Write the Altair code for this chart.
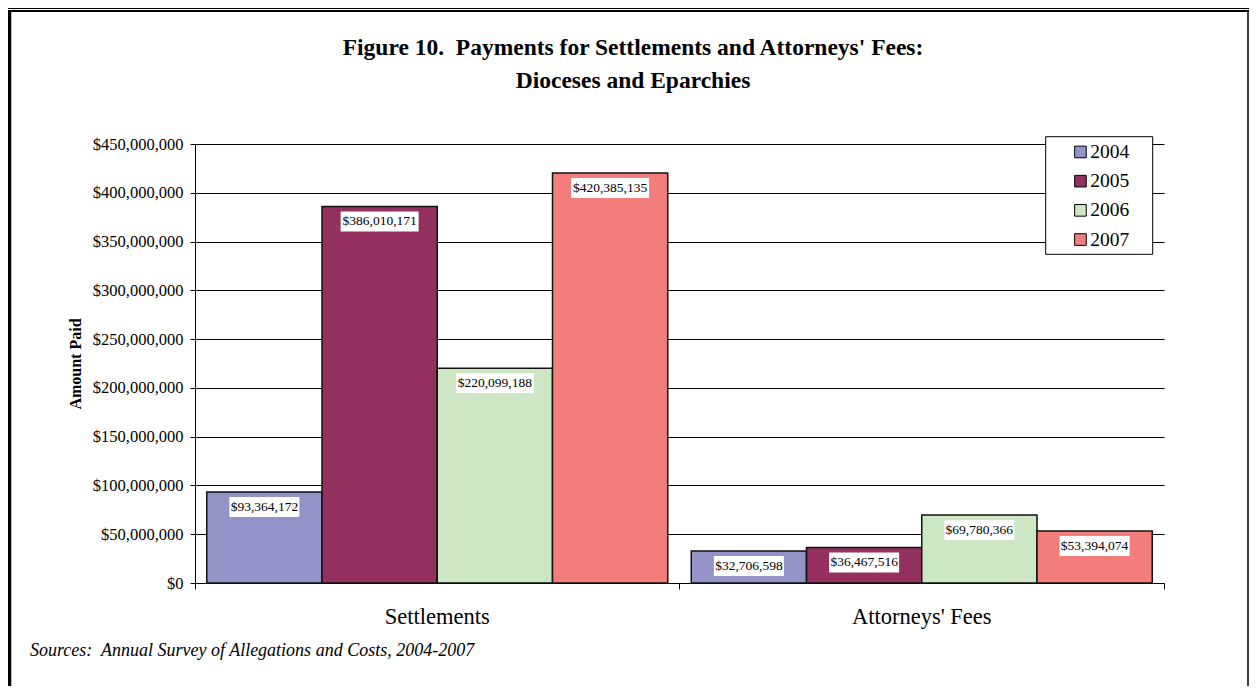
import altair as alt
import pandas as pd

# ---- data ----
categories = ["Settlements", "Attorneys' Fees"]
years = ["2004", "2005", "2006", "2007"]
settlements = [93364172, 386010171, 220099188, 420385135]
attorneys_fees = [32706598, 36467516, 69780366, 53394074]
year_colors = ["#9393C7", "#93305F", "#CDE6C4", "#F27D7B"]
y_ticks = [0, 50000000, 100000000, 150000000, 200000000, 250000000,
           300000000, 350000000, 400000000, 450000000]
title_lines = ["Figure 10.\u00a0 Payments for Settlements and Attorneys' Fees:",
               "Dioceses and Eparchies"]
y_title = "Amount Paid"
source_note = "Sources:\u00a0 Annual Survey of Allegations and Costs, 2004-2007"

rows = []
for cat, vals in zip(categories, [settlements, attorneys_fees]):
    for yr, v in zip(years, vals):
        rows.append({"category": cat, "year": yr, "amount": v,
                     "label": "${:,}".format(v)})
df = pd.DataFrame(rows)

FONT = "Liberation Serif"
W, H = 969, 439

x_enc = alt.X("category:N", sort=categories,
              scale=alt.Scale(paddingInner=0, paddingOuter=0),
              axis=alt.Axis(title=None, labelAngle=0, labelFont=FONT, labelFontSize=22.5,
                            labelColor="black", labelPadding=16.5, tickSize=6,
                            tickColor="black", domainColor="black", grid=False,
                            bandPosition=1, tickExtra=True))
xo_enc = alt.XOffset("year:N", sort=years,
                     scale=alt.Scale(paddingInner=0, paddingOuter=0.102))
y_enc = alt.Y("amount:Q", scale=alt.Scale(domain=[0, 450000000], nice=False),
              axis=alt.Axis(values=y_ticks, format="$,d", title=y_title,
                            titleFont=FONT, titleFontSize=16, titleFontWeight="bold",
                            titleColor="black", titleX=-120, titleY=219.5, titleAngle=270,
                            titleAlign="center", titleBaseline="middle",
                            labelFont=FONT, labelFontSize=16.5, labelColor="black",
                            labelPadding=7, tickSize=5, tickColor="black",
                            domainColor="black", grid=True, gridColor="black",
                            gridWidth=1))

base = alt.Chart(df)

bars = base.mark_bar(stroke="#111111", strokeWidth=1.5).encode(
    x=x_enc, xOffset=xo_enc, y=y_enc,
    color=alt.Color("year:N", sort=years,
                    scale=alt.Scale(domain=years, range=year_colors),
                    legend=alt.Legend(title=None, orient="none", legendX=875.7, legendY=-1.8,
                                      direction="vertical", symbolType="square",
                                      symbolSize=135, symbolStrokeColor="black",
                                      symbolStrokeWidth=1, labelFont=FONT,
                                      labelFontSize=19.5, labelColor="black",
                                      rowPadding=8.2, labelOffset=0, padding=0,
                                      symbolOffset=0)),
)

box_short = base.transform_filter("datum.amount < 100000000").mark_bar(
    color="white", width=70, yOffset=5, y2Offset=25
).encode(x=x_enc, xOffset=xo_enc, y=y_enc, y2=alt.Y2("amount:Q"))

box_long = base.transform_filter("datum.amount >= 100000000").mark_bar(
    color="white", width=78, yOffset=5, y2Offset=25
).encode(x=x_enc, xOffset=xo_enc, y=y_enc, y2=alt.Y2("amount:Q"))

labels = base.mark_text(font=FONT, fontSize=13.5, color="black",
                        baseline="middle", align="center", dy=15).encode(
    x=x_enc, xOffset=xo_enc, y=y_enc, text="label:N")

one = pd.DataFrame({"k": [0]})
deco = alt.Chart(one)

legend_box = deco.mark_rect(fill="white", stroke="black", strokeWidth=1).encode(
    x=alt.value(850.7), x2=alt.value(957.7), y=alt.value(-7.3), y2=alt.value(110.3))

title1 = deco.mark_text(font=FONT, fontSize=23.5, fontWeight="bold", color="black",
                        align="center", baseline="middle").encode(
    x=alt.value(438), y=alt.value(-96), text=alt.value(title_lines[0]))
title2 = deco.mark_text(font=FONT, fontSize=23.5, fontWeight="bold", color="black",
                        align="center", baseline="middle").encode(
    x=alt.value(438), y=alt.value(-63.5), text=alt.value(title_lines[1]))

source = deco.mark_text(font=FONT, fontSize=18, fontStyle="italic", color="black",
                        align="left", baseline="middle").encode(
    x=alt.value(-165), y=alt.value(507), text=alt.value(source_note))

# outer frame
frame_top_thin = deco.mark_rule(color="black", strokeWidth=1).encode(
    x=alt.value(-187), x2=alt.value(1054), y=alt.value(-135.5))
frame_top_thick = deco.mark_rule(color="black", strokeWidth=2).encode(
    x=alt.value(-187), x2=alt.value(1054), y=alt.value(-133))
frame_left = deco.mark_rule(color="black", strokeWidth=3.5).encode(
    x=alt.value(-185.5), y=alt.value(-134), y2=alt.value(545))
frame_right = deco.mark_rule(color="black", strokeWidth=1.5).encode(
    x=alt.value(1053), y=alt.value(-134), y2=alt.value(545))

chart = alt.layer(
    bars, legend_box, box_short, box_long, labels,
    title1, title2, source,
    frame_top_thin, frame_top_thick, frame_left, frame_right,
).properties(
    width=W, height=H,
    autosize=alt.AutoSizeParams(type="none"),
    padding={"left": 187, "top": 136, "right": 85, "bottom": 103},
    background="white",
).configure_view(stroke=None)

chart.save("out.html", embed_options={"renderer": "svg", "actions": False})
